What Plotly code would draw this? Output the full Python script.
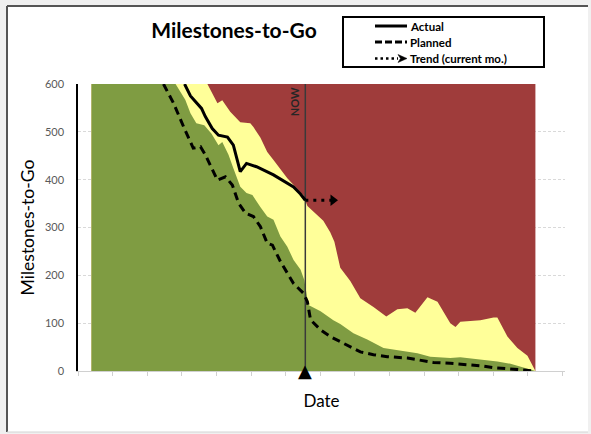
import plotly.graph_objects as go

# ---------------- data (x in months from chart start, y = milestones to go) ----
AREA_START = 0.39
AREA_END = 13.22
RED_LEVEL = 600

GREEN_X = [0.39, 2.82, 3.10, 3.25, 3.42, 3.65, 3.86, 4.06, 4.17, 4.35, 4.49, 4.69, 4.87,
           5.04, 5.27, 5.47, 5.65, 5.85, 6.05, 6.23, 6.43, 6.54, 6.66, 7.01, 7.38, 7.58,
           7.96, 8.36, 8.83, 9.23, 9.81, 10.18, 10.47, 10.76, 11.05, 11.63, 12.12, 12.50,
           12.79, 13.08, 13.22]
GREEN_Y = [600, 600, 567, 539, 518, 514, 496, 472, 479, 452, 424, 385, 372,
           368, 343, 323, 316, 281, 260, 232, 212, 190, 138, 125, 106, 98,
           79, 66, 48, 44, 37, 30, 29, 27, 29, 24, 20, 15,
           9, 2, 0]

YELLOW_X = [0.39, 3.74, 4.03, 4.17, 4.40, 4.69, 4.98, 5.07, 5.27, 5.47, 5.65, 5.85, 6.05,
            6.28, 6.51, 6.63, 6.92, 7.09, 7.29, 7.41, 7.58, 7.87, 8.16, 8.54, 8.91, 9.23,
            9.52, 9.75, 10.10, 10.39, 10.76, 10.91, 11.05, 11.63, 12.01, 12.12, 12.41,
            12.70, 12.99, 13.16, 13.22]
YELLOW_Y = [600, 600, 560, 566, 542, 520, 518, 510, 488, 458, 441, 422, 403,
            385, 368, 345, 325, 314, 290, 270, 216, 188, 152, 134, 114, 129,
            131, 122, 154, 145, 100, 92, 103, 106, 112, 112, 72,
            48, 32, 8, 0]

PLANNED_X = [2.47, 2.76, 3.05, 3.33, 3.54, 3.68, 4.03, 4.26, 4.46, 4.64, 4.84, 5.07, 5.27,
             5.47, 5.62, 5.85, 6.23, 6.51, 6.63, 6.72, 7.01, 7.29, 7.67, 8.16, 8.54, 8.94,
             9.52, 9.90, 10.27, 10.76, 11.25, 11.63, 12.01, 12.58, 13.22]
PLANNED_Y = [600, 560, 511, 466, 469, 452, 399, 406, 389, 351, 330, 323, 302,
             267, 263, 229, 183, 163, 145, 107, 86, 72, 58, 40, 34, 30,
             27, 23, 18, 16, 14, 11, 7, 3, 0]

ACTUAL_X = [3.08, 3.25, 3.57, 3.68, 3.88, 4.06, 4.32, 4.49, 4.69, 4.87, 5.16, 5.65, 6.23,
            6.43, 6.57]
ACTUAL_Y = [600, 575, 549, 532, 507, 493, 489, 472, 417, 434, 427, 410, 385,
            370, 357]

NOW_DATE = 6.57
TREND_END = 7.37

Y_TICKS = [0, 100, 200, 300, 400, 500, 600]
X_TICKS = list(range(0, 15))

GREEN = "#7F9C42"
YELLOW = "#FFFF99"
RED = "#9F3C3B"
FONT = "Lato"

fig = go.Figure()

fig.add_trace(go.Scatter(x=[AREA_START, AREA_END], y=[RED_LEVEL, RED_LEVEL], mode="lines",
                         fill="tozeroy", fillcolor=RED, line=dict(width=0),
                         hoverinfo="skip", showlegend=False))
fig.add_trace(go.Scatter(x=YELLOW_X, y=YELLOW_Y, mode="lines", fill="tozeroy",
                         fillcolor=YELLOW, line=dict(width=0), hoverinfo="skip",
                         showlegend=False))
fig.add_trace(go.Scatter(x=GREEN_X, y=GREEN_Y, mode="lines", fill="tozeroy",
                         fillcolor=GREEN, line=dict(width=0), hoverinfo="skip",
                         showlegend=False))
# NOW line
fig.add_trace(go.Scatter(x=[NOW_DATE, NOW_DATE], y=[0, 600], mode="lines",
                         line=dict(color="#3a3a3a", width=1.5), hoverinfo="skip",
                         showlegend=False))
fig.add_trace(go.Scatter(x=PLANNED_X, y=PLANNED_Y, mode="lines", name="Planned",
                         line=dict(color="black", width=3, dash="8px,5px"),
                         showlegend=False))
fig.add_trace(go.Scatter(x=ACTUAL_X, y=ACTUAL_Y, mode="lines", name="Actual",
                         line=dict(color="black", width=3), showlegend=False))
# Trend (current month)
fig.add_trace(go.Scatter(x=[NOW_DATE, TREND_END], y=[ACTUAL_Y[-1], ACTUAL_Y[-1]],
                         mode="lines", name="Trend (current mo.)",
                         line=dict(color="black", width=3, dash="3px,5px"),
                         showlegend=False))
fig.add_trace(go.Scatter(x=[TREND_END], y=[ACTUAL_Y[-1]], mode="markers",
                         marker=dict(symbol="triangle-right", size=10, color="black"),
                         hoverinfo="skip", showlegend=False))

# ---- layout helpers (plot area in pixels: x 78..565, y 84..371) ----
PL, PW, PB, PH = 78, 487, 371, 287


def px(x):
    return (x - PL) / PW


def py(y):
    return (PB - y) / PH


shapes = [
    dict(type="rect", xref="paper", yref="paper", x0=px(7), x1=px(588), y0=py(432), y1=py(6),
         fillcolor="white", line=dict(width=0), layer="below"),
    dict(type="line", xref="paper", yref="paper", x0=px(7), x1=px(7), y0=py(432), y1=py(6),
         line=dict(color="#555555", width=2), layer="below"),
    dict(type="line", xref="paper", yref="paper", x0=px(7), x1=px(588), y0=py(6), y1=py(6),
         line=dict(color="#555555", width=2), layer="below"),
    dict(type="line", xref="paper", yref="paper", x0=px(7), x1=px(588), y0=py(432), y1=py(432),
         line=dict(color="#d4d4d4", width=1), layer="below"),
    # legend box
    dict(type="rect", xref="paper", yref="paper", x0=px(343), x1=px(544), y0=py(67), y1=py(17),
         fillcolor="white", line=dict(color="black", width=2)),
    dict(type="line", xref="paper", yref="paper", x0=px(375), x1=px(407), y0=py(26), y1=py(26),
         line=dict(color="black", width=3)),
    dict(type="line", xref="paper", yref="paper", x0=px(375), x1=px(407), y0=py(42), y1=py(42),
         line=dict(color="black", width=3, dash="7px,3px")),
    dict(type="line", xref="paper", yref="paper", x0=px(375), x1=px(398), y0=py(58.5), y1=py(58.5),
         line=dict(color="black", width=2.5, dash="2.5px,3px")),
    dict(type="path", xref="paper", yref="paper",
         path=f"M{px(398)},{py(54.5)} L{px(407)},{py(58.5)} L{px(398)},{py(62.5)} L{px(400.5)},{py(58.5)} Z",
         fillcolor="black", line=dict(color="black", width=0.5)),
]

LEG_FONT = dict(family=FONT, size=11.5, color="black", weight="bold")
annotations = [
    dict(text="Actual", xref="paper", yref="paper", x=px(408), y=py(26), xanchor="left",
         yanchor="middle", showarrow=False, font=LEG_FONT),
    dict(text="Planned", xref="paper", yref="paper", x=px(408), y=py(42), xanchor="left",
         yanchor="middle", showarrow=False, font=LEG_FONT),
    dict(text="Trend (current mo.)", xref="paper", yref="paper", x=px(408), y=py(58.5),
         xanchor="left", yanchor="middle", showarrow=False, font=LEG_FONT),
    dict(text="NOW", xref="x", yref="y", x=NOW_DATE, y=600, xanchor="right", yanchor="top",
         xshift=-2, yshift=-1, textangle=-90, showarrow=False,
         font=dict(family=FONT, size=11, color="#262626", weight="bold")),
    # NOW marker triangle on the date axis
    dict(text="\u25B2", xref="x", yref="y", x=NOW_DATE, y=0, xanchor="center",
         yanchor="middle", yshift=1, showarrow=False,
         font=dict(family="DejaVu Sans", size=18, color="black")),
]

fig.update_layout(
    width=591, height=434,
    margin=dict(l=PL, r=591 - PL - PW, t=PB - PH, b=434 - PB, pad=0),
    paper_bgcolor="#f0f0f0", plot_bgcolor="white",
    title=dict(text="<b>Milestones-to-Go</b>", xref="container", yref="container",
               x=234 / 591, y=1 - 31 / 434, xanchor="center", yanchor="middle",
               font=dict(family=FONT, size=21, color="black")),
    font=dict(family=FONT),
    shapes=shapes, annotations=annotations, showlegend=False,
    xaxis=dict(range=[0, PW / 34.6], tickvals=X_TICKS, showticklabels=False,
               ticks="outside", ticklen=4, tickcolor="#d0d0d0", showgrid=False,
               zeroline=False, showline=True, linecolor="#d0d0d0", linewidth=1,
               title=dict(text="Date", font=dict(family=FONT, size=17, color="black"),
                          standoff=20)),
    yaxis=dict(range=[0, 600], tickvals=Y_TICKS, showgrid=True, gridcolor="#d9d9d9",
               griddash="3px,2px", gridwidth=1, zeroline=False, showline=True,
               linecolor="black", linewidth=1.5, ticks="", ticklabelstandoff=10,
               tickfont=dict(family=FONT, size=11, color="#595959"),
               title=dict(text="Milestones-to-Go", font=dict(family=FONT, size=17.5, color="black"),
                          standoff=6)),
)

fig.write_html("out.html", config={"displayModeBar": False},
               post_script="document.body.style.margin='0';document.body.style.overflow='hidden';")
